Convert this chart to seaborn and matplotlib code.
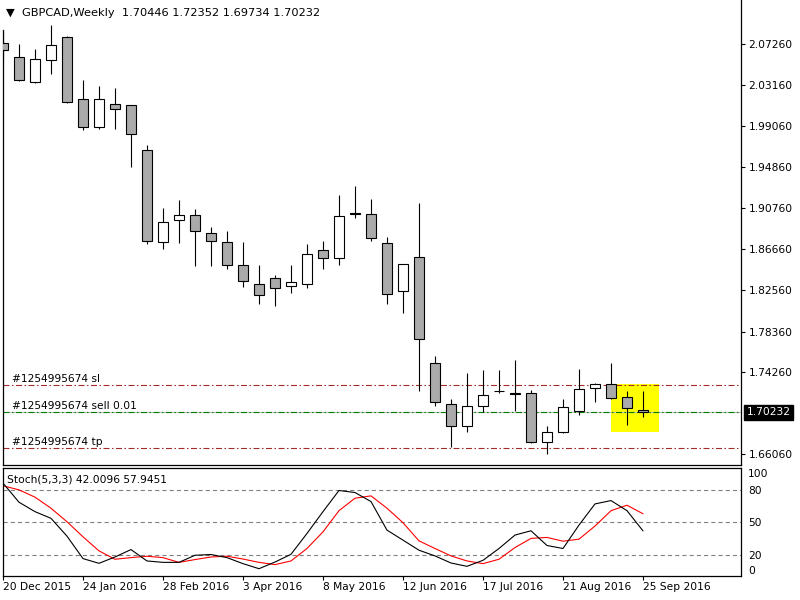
import numpy as np
import pandas as pd
import matplotlib
matplotlib.use('Agg')
import matplotlib.pyplot as plt
import matplotlib.transforms as mtrans
from matplotlib.patches import Rectangle
import seaborn as sns

# Weekly GBPCAD candles, 20 Dec 2015 .. 25 Sep 2016
opens = [2.0739, 2.0592, 2.0341, 2.0562, 2.0793, 2.0170, 1.9889, 2.0120, 2.0110, 1.9658,
         1.8733, 1.8954, 1.9004, 1.8824, 1.8733, 1.8502, 1.8311, 1.8371, 1.8291, 1.8311,
         1.8653, 1.8572, 1.9024, 1.9015, 1.8723, 1.8241, 1.8582, 1.7517, 1.7105, 1.6884,
         1.7085, 1.7236, 1.7216, 1.7215, 1.6723, 1.6824, 1.7035, 1.7266, 1.7306, 1.7175,
         1.70446]
highs = [2.0854, 2.0726, 2.0673, 2.0917, 2.0806, 2.0361, 2.0301, 2.0281, 2.0113, 1.9708,
         1.9075, 1.9155, 1.9065, 1.8884, 1.8844, 1.8739, 1.8502, 1.8401, 1.8502, 1.8716,
         1.8746, 1.9208, 1.9299, 1.9165, 1.8783, 1.8512, 1.9125, 1.7588, 1.7155, 1.7420,
         1.7447, 1.7447, 1.7547, 1.7246, 1.6884, 1.7155, 1.7457, 1.7316, 1.7517, 1.7236,
         1.72352]
lows = [2.0552, 2.0355, 2.0338, 2.0428, 2.0137, 1.9865, 1.9875, 1.9875, 1.9493, 1.8719,
        1.8669, 1.8729, 1.8498, 1.8498, 1.8468, 1.8281, 1.8113, 1.8096, 1.8227, 1.8277,
        1.8468, 1.8508, 1.8980, 1.8743, 1.8116, 1.8026, 1.7244, 1.7093, 1.6679, 1.6824,
        1.7025, 1.7215, 1.7038, 1.6713, 1.6603, 1.6814, 1.6994, 1.7125, 1.7162, 1.6894,
        1.69734]
closes = [2.0666, 2.0361, 2.0572, 2.0713, 2.0140, 1.9889, 2.0170, 2.0070, 1.9819, 1.8743,
          1.8934, 1.9004, 1.8844, 1.8743, 1.8502, 1.8341, 1.8200, 1.8271, 1.8331, 1.8613,
          1.8572, 1.8994, 1.9016, 1.8773, 1.8211, 1.8512, 1.7758, 1.7126, 1.6884, 1.7085,
          1.7195, 1.7236, 1.7208, 1.6723, 1.6824, 1.7075, 1.7256, 1.7306, 1.7165, 1.7065,
          1.70232]

# Stochastic(5,3,3): main (black) and signal (red)
stoch_main = [86.5, 68.7, 59.9, 53.7, 37.1, 16.2, 11.8, 17.7, 24.6, 14.0,
              12.7, 12.7, 19.3, 20.0, 17.1, 11.5, 6.8, 13.0, 20.2, 39.6,
              59.9, 79.6, 77.7, 69.3, 42.7, 33.4, 24.0, 18.7, 12.1, 9.0,
              14.6, 25.6, 38.1, 42.1, 28.4, 25.6, 47.4, 67.1, 70.2, 60.8,
              42.0096]
stoch_signal = [84.0, 80.2, 73.4, 63.1, 50.5, 36.5, 23.4, 15.6, 17.1, 18.4,
                17.1, 12.7, 15.3, 17.7, 18.4, 15.8, 12.7, 10.6, 14.0, 25.6,
                41.1, 60.8, 72.4, 74.6, 63.1, 49.6, 32.7, 25.6, 18.7, 14.0,
                11.5, 15.6, 26.5, 35.0, 35.9, 32.4, 34.3, 46.5, 60.8, 65.9,
                57.9451]

# order levels
sl_price = 1.7296
sell_price = 1.7023
tp_price = 1.6663
bid_price = 1.70232
order_labels = ['#1254995674 sl', '#1254995674 sell 0.01', '#1254995674 tp']

# yellow rectangle (candle index range, price range)
rect_x = [38, 41]
rect_price = [1.6830, 1.7306]

price_ticks = [2.07260, 2.03160, 1.99060, 1.94860, 1.90760, 1.86660,
               1.82560, 1.78360, 1.74260, 1.66060]
stoch_ticks = [0, 20, 50, 80, 100]
stoch_levels = [20, 50, 80]
date_tick_pos = [0, 5, 10, 15, 20, 25, 30, 35, 40]
date_tick_labels = ['20 Dec 2015', '24 Jan 2016', '28 Feb 2016', '3 Apr 2016', '8 May 2016',
                    '12 Jun 2016', '17 Jul 2016', '21 Aug 2016', '25 Sep 2016']

df = pd.DataFrame({'open': opens, 'high': highs, 'low': lows, 'close': closes,
                   'k': stoch_main, 'd': stoch_signal})
df['idx'] = np.arange(len(df))

sns.set_style('white')
plt.rcParams['font.family'] = ['DejaVu Sans']
plt.rcParams['lines.scale_dashes'] = False
fs = 7.7

fig = plt.figure(figsize=(8, 6), dpi=100)
ax = fig.add_axes([0.003125, 0.22417, 0.923125, 0.77583])
ax2 = fig.add_axes([0.003125, 0.04, 0.923125, 0.18083])

xlim = (-0.03, 46.125)

# --- candles ---
bull = df['close'] >= df['open']
body_low = np.minimum(df['open'], df['close'])
body_h = (df['close'] - df['open']).abs()
ax.vlines(df['idx'], df['low'], df['high'], color='black', lw=0.8, zorder=3)
ax.bar(df['idx'], body_h, bottom=body_low, width=0.6,
       color=np.where(bull, 'white', '#aaaaaa'), edgecolor='black', linewidth=0.8, zorder=4)

ax.add_patch(Rectangle((rect_x[0], rect_price[0]), rect_x[1] - rect_x[0],
                       rect_price[1] - rect_price[0], facecolor='#ffff00', edgecolor='none', zorder=1))

dashdot = (0, (4.3, 1.8, 1.1, 1.8))
ax.axhline(bid_price, color='#c0c0c0', lw=0.8, zorder=1.5)
ax.axhline(sl_price, color='#a52a2a', lw=0.8, ls=dashdot, zorder=2)
ax.axhline(sell_price, color='#008000', lw=0.8, ls=dashdot, zorder=2)
ax.axhline(tp_price, color='#a52a2a', lw=0.8, ls=dashdot, zorder=2)

trans = mtrans.blended_transform_factory(ax.transAxes, ax.transData)
lx = (12 - 2.5) / 738.5
for lab, p in zip(order_labels, [sl_price, sell_price, tp_price]):
    ax.text(lx, p + 0.0011, lab, transform=trans, fontsize=fs, va='bottom', ha='left', color='black')

ax.text(1.0075, bid_price, f'{bid_price:.5f}', transform=trans, fontsize=fs, color='white',
        va='center', ha='left',
        bbox=dict(boxstyle='square,pad=0.22', facecolor='black', edgecolor='black'))

ax.set_xlim(*xlim)
ax.set_ylim(1.64904, 2.11682)
ax.set_xticks([])
ax.yaxis.tick_right()
ax.set_yticks(price_ticks)
ax.set_yticklabels([f'{v:.5f}' for v in price_ticks])
ax.tick_params(axis='y', direction='out', length=3, width=0.8, pad=2.5, labelsize=fs,
               colors='black')
for s in ['left', 'right', 'bottom']:
    ax.spines[s].set_color('black')
    ax.spines[s].set_linewidth(0.9)
ax.spines['top'].set_visible(False)
ax.spines['left'].set_bounds(1.64904, 2.0867)

fig.text(6 / 800, 1 - 13 / 600, '\u25bc  GBPCAD,Weekly  1.70446 1.72352 1.69734 1.70232',
         fontsize=8.2, va='center', ha='left', color='black')

# --- stochastic ---
for lv in stoch_levels:
    ax2.axhline(lv, color='#808080', lw=0.8, ls=(0, (3, 2.2)), zorder=1)
sns.lineplot(data=df, x='idx', y='k', color='black', lw=0.8, ax=ax2, zorder=3)
sns.lineplot(data=df, x='idx', y='d', color='#ff0000', lw=0.8, ax=ax2, zorder=2)

ax2.set_xlim(*xlim)
ax2.set_ylim(0, 101)
ax2.set_xlabel('')
ax2.set_ylabel('')
ax2.yaxis.tick_right()
ax2.set_yticks(stoch_ticks)
ax2.set_yticklabels([str(v) for v in stoch_ticks])
ylabs = ax2.get_yticklabels()
ylabs[0].set_va('bottom')
ylabs[-1].set_va('top')
ax2.tick_params(axis='y', direction='out', length=0, pad=5, labelsize=fs, colors='black')
ax2.set_xticks(date_tick_pos)
ax2.set_xticklabels(date_tick_labels, ha='left')
ax2.tick_params(axis='x', direction='out', length=3, width=0.8, pad=1.5, labelsize=fs,
                colors='black', bottom=True)
for s in ax2.spines.values():
    s.set_color('black')
    s.set_linewidth(0.9)

ax2.text((7 - 2.5) / 738.5, 0.894, 'Stoch(5,3,3) 42.0096 57.9451', transform=ax2.transAxes,
         fontsize=fs, va='center', ha='left', color='black')

fig.savefig('out.png', dpi=100, facecolor='white')
